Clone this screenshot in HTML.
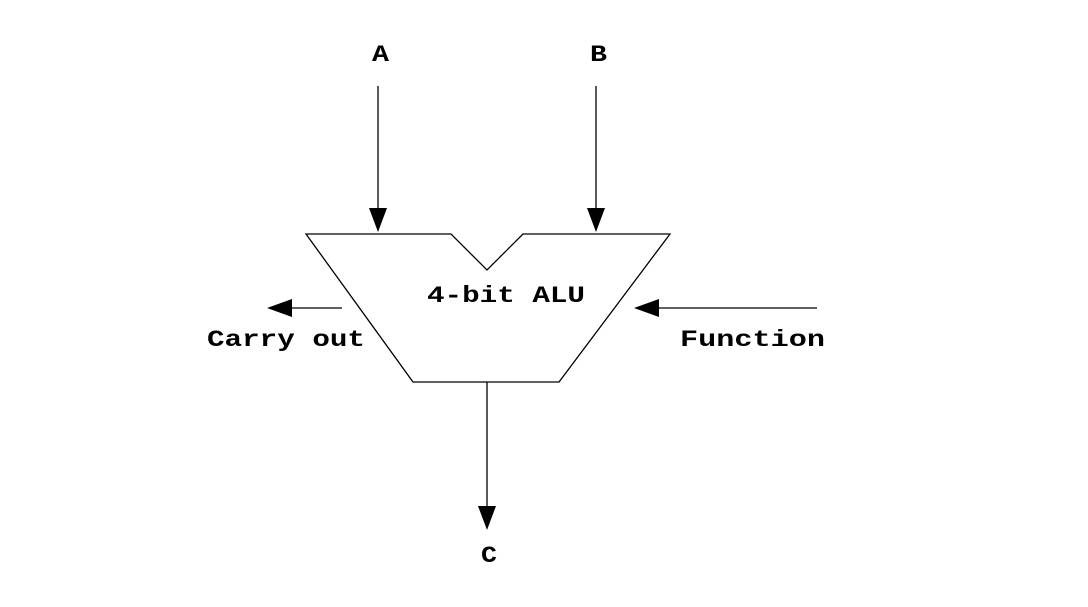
<!DOCTYPE html>
<html><head><meta charset="utf-8"><style>
html,body{margin:0;padding:0;background:#fff;}
svg{display:block;}
text{font-family:"Liberation Mono",monospace;font-weight:bold;font-size:23px;fill:#000;}
</style></head><body>
<svg width="1088" height="607" viewBox="0 0 1088 607">
<polygon points="306,234 451,234 487,270 523,234 670,234 559,382 413,382" fill="#fff" stroke="#000" stroke-width="1.3"/>
<g>
<line x1="378" y1="86" x2="378" y2="212" stroke="#000" stroke-width="1.3"/>
<polygon points="369,208 387,208 378,232" fill="#000"/>
</g>
<g>
<line x1="596" y1="86" x2="596" y2="212" stroke="#000" stroke-width="1.3"/>
<polygon points="587,208 605,208 596,232" fill="#000"/>
</g>
<g>
<line x1="342" y1="308" x2="288" y2="308" stroke="#000" stroke-width="1.3"/>
<polygon points="292,299 292,317 267,308" fill="#000"/>
</g>
<g>
<line x1="817" y1="308" x2="655" y2="308" stroke="#000" stroke-width="1.3"/>
<polygon points="659,299 659,317 634,308" fill="#000"/>
</g>
<g>
<line x1="487" y1="382" x2="487" y2="510" stroke="#000" stroke-width="1.3"/>
<polygon points="478,506 496,506 487,530" fill="#000"/>
</g>
<text x="372" y="61" textLength="17" lengthAdjust="spacingAndGlyphs">A</text>
<text x="590" y="61" textLength="17" lengthAdjust="spacingAndGlyphs">B</text>
<text x="427" y="302" textLength="158" lengthAdjust="spacingAndGlyphs">4-bit ALU</text>
<text x="207" y="346" textLength="158" lengthAdjust="spacingAndGlyphs">Carry out</text>
<text x="680" y="346" textLength="145" lengthAdjust="spacingAndGlyphs">Function</text>
<text x="481" y="562" textLength="16" lengthAdjust="spacingAndGlyphs">C</text>
</svg>
</body></html>
